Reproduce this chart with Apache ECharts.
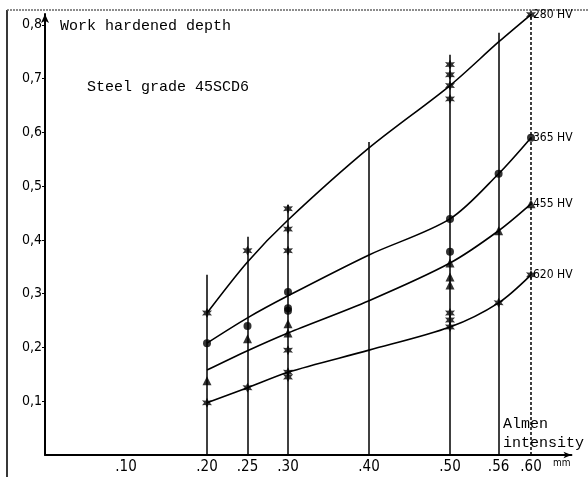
<!DOCTYPE html>
<html><head><meta charset="utf-8">
<script src="https://cdn.jsdelivr.net/npm/echarts@6/dist/echarts.min.js"></script>
<style>html,body{margin:0;padding:0;background:#fff}#c{width:588px;height:477px}</style>
</head><body><div id="c"></div>
<script>
// ---- data ----
const xTickValues = [0.10, 0.20, 0.25, 0.30, 0.40, 0.50, 0.56, 0.60];
const yTickValues = [0.1, 0.2, 0.3, 0.4, 0.5, 0.6, 0.7, 0.8];
const vlineX   = [0.20, 0.25, 0.30, 0.40, 0.50, 0.56, 0.60];
const vlineTop = [0.335, 0.406, 0.465, 0.582, 0.744, 0.785, 0.82];
const seriesNames = ['280 HV', '365 HV', '455 HV', '620 HV'];
const curve280 = [[0.20,0.264],[0.25,0.359],[0.30,0.437],[0.40,0.571],[0.50,0.687],[0.56,0.768],[0.60,0.819]];
const curve365 = [[0.20,0.208],[0.25,0.255],[0.30,0.296],[0.40,0.372],[0.50,0.439],[0.56,0.523],[0.60,0.590]];
const curve455 = [[0.20,0.158],[0.25,0.194],[0.30,0.227],[0.40,0.287],[0.50,0.357],[0.56,0.417],[0.60,0.467]];
const curve620 = [[0.20,0.097],[0.25,0.125],[0.30,0.154],[0.40,0.195],[0.50,0.238],[0.56,0.283],[0.60,0.335]];
const pts280 = [[0.20,0.264],[0.25,0.38],[0.30,0.458],[0.30,0.42],[0.30,0.38],[0.50,0.726],[0.50,0.707],[0.50,0.687],[0.50,0.662],[0.60,0.819]];
const pts365 = [[0.20,0.208],[0.25,0.24],[0.30,0.303],[0.30,0.273],[0.30,0.268],[0.50,0.439],[0.50,0.378],[0.56,0.523],[0.60,0.590]];
const pts455 = [[0.20,0.138],[0.25,0.216],[0.30,0.244],[0.30,0.227],[0.50,0.357],[0.50,0.331],[0.50,0.316],[0.56,0.417],[0.60,0.467]];
const pts620 = [[0.20,0.097],[0.25,0.125],[0.30,0.154],[0.30,0.145],[0.30,0.195],[0.50,0.264],[0.50,0.251],[0.50,0.238],[0.56,0.283],[0.60,0.335]];

const curves = [curve280, curve365, curve455, curve620];
const pts = [pts280, pts365, pts455, pts620];
const starPath = 'path://M0,-10L2.5,-4.3L8.7,-5L5,0L8.7,5L2.5,4.3L0,10L-2.5,4.3L-8.7,5L-5,0L-8.7,-5L-2.5,-4.3Z';
const symbols = [starPath, 'circle', 'triangle', starPath];
const symSizes = [10, 8, 9, 10];
const INK = '#000';
const sansFont = 'DejaVu Sans Condensed, DejaVu Sans, sans-serif';
const monoFont = 'Liberation Mono, DejaVu Sans Mono, monospace';

const series = [];
// vertical reference lines
series.push({
  type: 'line', data: [], silent: true,
  markLine: {
    symbol: 'none', silent: true, label: {show: false},
    data: vlineX.map((x, i) => [
      {coord: [x, 0], lineStyle: {color: INK, width: 1.5, type: x === 0.60 ? [3, 2] : 'solid'}},
      {coord: [x, vlineTop[i]]}
    ])
  }
});
curves.forEach((c, i) => {
  series.push({
    name: seriesNames[i], type: 'line', data: c, smooth: 0.3, showSymbol: false,
    lineStyle: {color: INK, width: 1.6},
    endLabel: {show: true, formatter: seriesNames[i], color: INK, fontFamily: sansFont, fontSize: 12, distance: 2},
    z: 3
  });
  series.push({
    type: 'scatter', data: pts[i], symbol: symbols[i], symbolSize: symSizes[i],
    itemStyle: {color: INK}, z: 4
  });
});

const chart = echarts.init(document.getElementById('c'), null, {renderer: 'canvas'});
chart.setOption({
  animation: false,
  backgroundColor: '#fff',
  grid: {left: 45, right: 16.5, top: 14, bottom: 22, containLabel: false},
  xAxis: {
    type: 'value', min: 0, max: 0.65,
    axisLine: {show: true, lineStyle: {color: INK, width: 1.8}, symbol: ['none', 'arrow'], symbolSize: [5, 8]},
    axisTick: {show: false},
    splitLine: {show: false},
    axisLabel: {
      customValues: xTickValues, margin: 5,
      formatter: v => '.' + Math.round(v * 100).toString().padStart(2, '0'),
      color: INK, fontFamily: sansFont, fontSize: 15
    }
  },
  yAxis: {
    type: 'value', min: 0, max: 0.82,
    axisLine: {show: true, lineStyle: {color: INK, width: 2}, symbol: ['none', 'arrow'], symbolSize: [6, 9]},
    axisTick: {show: true, customValues: yTickValues, length: 3, inside: false, lineStyle: {color: INK, width: 1}},
    splitLine: {show: false},
    axisLabel: {
      customValues: yTickValues, margin: 3,
      formatter: v => v.toFixed(1).replace('.', ','),
      color: INK, fontFamily: sansFont, fontSize: 14
    }
  },
  graphic: [
    {type: 'line', shape: {x1: 7, y1: 10, x2: 7, y2: 477}, style: {stroke: '#222', lineWidth: 1.8}},
    {type: 'line', shape: {x1: 7, y1: 10, x2: 588, y2: 10}, style: {stroke: '#666', lineWidth: 1.3, lineDash: [2, 1]}},
    {type: 'text', left: 60, top: 19, style: {text: 'Work hardened depth', font: '15px ' + monoFont, fill: INK}},
    {type: 'text', left: 87, top: 80, style: {text: 'Steel grade 45SCD6', font: '15px ' + monoFont, fill: INK}},
    {type: 'text', left: 503, top: 415, style: {text: 'Almen\nintensity', font: '15px ' + monoFont, lineHeight: 19, fill: INK}},
    {type: 'text', left: 553, top: 458, style: {text: 'mm', font: '10px ' + sansFont, fill: INK}}
  ],
  series: series
});
</script>
</body></html>
